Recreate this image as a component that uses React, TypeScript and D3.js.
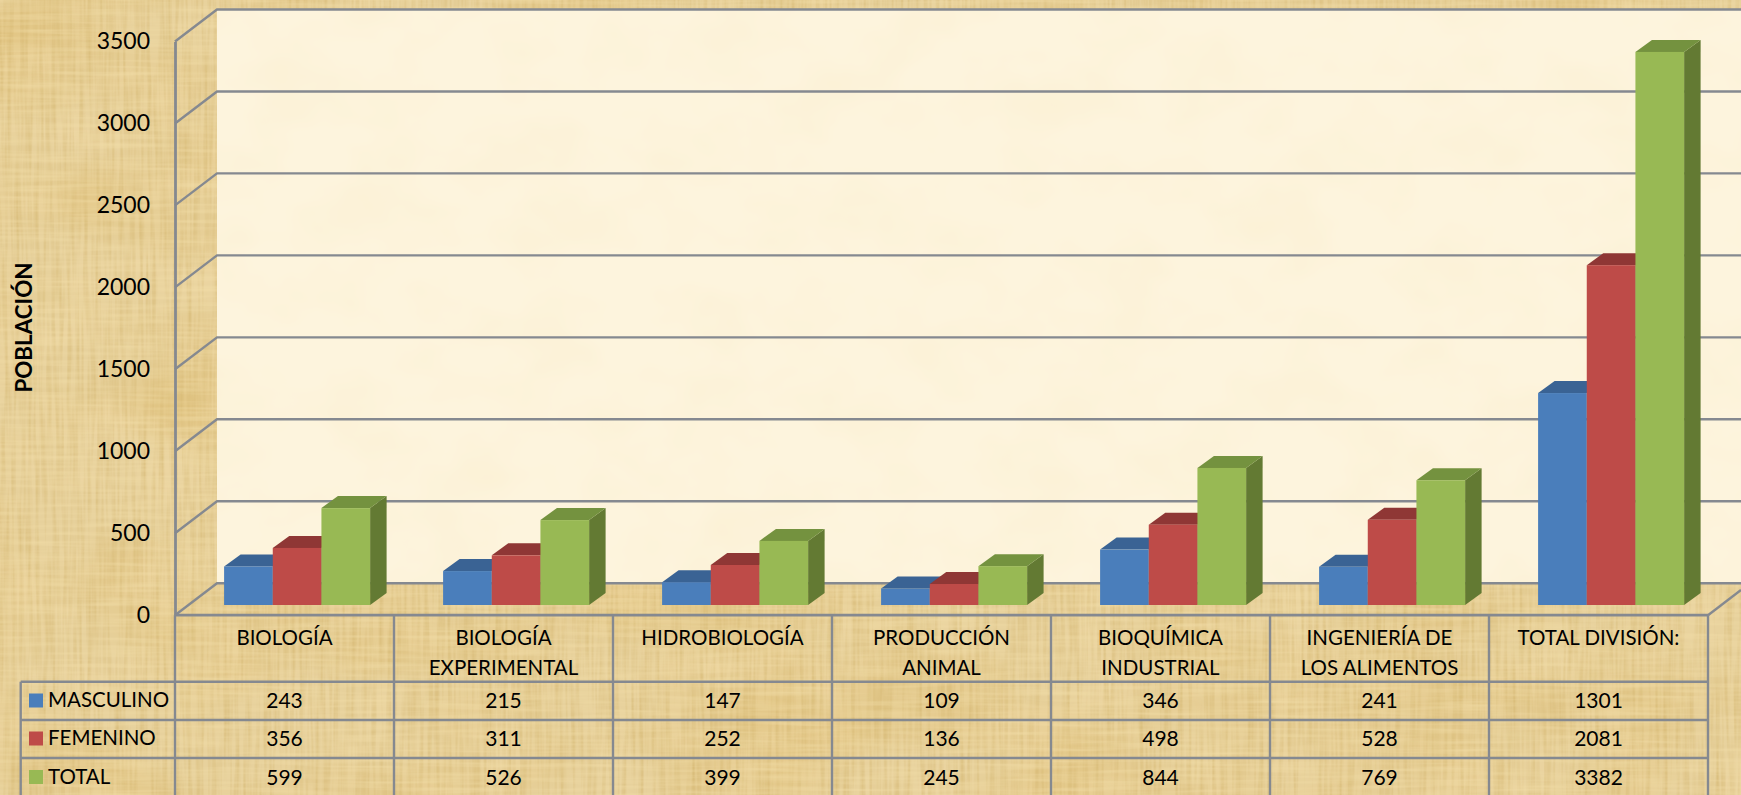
import { useEffect, useRef } from 'react';
import * as d3 from 'd3';

const categories = [
  ['BIOLOGÍA'],
  ['BIOLOGÍA', 'EXPERIMENTAL'],
  ['HIDROBIOLOGÍA'],
  ['PRODUCCIÓN', 'ANIMAL'],
  ['BIOQUÍMICA', 'INDUSTRIAL'],
  ['INGENIERÍA DE', 'LOS ALIMENTOS'],
  ['TOTAL DIVISIÓN:'],
];
const seriesNames = ['MASCULINO', 'FEMENINO', 'TOTAL'];
const masculino = [243, 215, 147, 109, 346, 241, 1301];
const femenino = [356, 311, 252, 136, 498, 528, 2081];
const total = [599, 526, 399, 245, 844, 769, 3382];
const seriesValues = [masculino, femenino, total];
const ticks = [0, 500, 1000, 1500, 2000, 2500, 3000, 3500];

const frontColors = ['#4a7ebb', '#be4b48', '#98b954'];
const topColors = ['#3a6394', '#8f3735', '#74923f'];
const sideColors = ['#2f5078', '#752c2b', '#637a33'];

const GRID = '#858990';
const FONT = 'Lato, "Open Sans", sans-serif';
const WIDTH = 1741;
const HEIGHT = 795;

export default function App() {
  const svgRef = useRef<SVGSVGElement>(null);

  useEffect(() => {
    const svg = d3.select(svgRef.current);
    svg.selectAll('*').remove();

    const left = 175;
    const right = 1708;
    const floorY = 615.2;
    const topY = 41.5;
    const wallDx = 42;
    const wallDy = -32;
    const barPlaneDx = 12.6;
    const barPlaneDy = -8.9;
    const barBase = 605;
    const barDepthDx = 16.5;
    const barDepthDy = -12;

    const y = d3.scaleLinear().domain([0, 3500]).range([floorY, topY]);
    const x = d3.scaleBand<number>().domain(d3.range(categories.length)).range([left, right]);
    const inner = d3.scaleBand<number>()
      .domain(d3.range(seriesNames.length))
      .range([0, x.bandwidth()])
      .paddingOuter(0.75);

    // Paper textures
    const defs = svg.append('defs');
    const paper = defs.append('filter').attr('id', 'papyrus')
      .attr('x', 0).attr('y', 0).attr('width', '100%').attr('height', '100%')
      .attr('color-interpolation-filters', 'sRGB');
    const layer = (freq: string, octaves: number, seed: number, matrix: string, name: string) => {
      paper.append('feTurbulence').attr('type', 'fractalNoise').attr('baseFrequency', freq)
        .attr('numOctaves', octaves).attr('seed', seed).attr('result', name + 'n');
      paper.append('feColorMatrix').attr('in', name + 'n').attr('type', 'matrix').attr('values', matrix).attr('result', name);
    };
    layer('0.006 0.009', 2, 4, '0 0 0 0 0.87  0 0 0 0 0.73  0 0 0 0 0.42  1.1 0 0 0 -0.42', 'blotch');
    layer('0.015 0.02', 2, 9, '0 0 0 0 0.95  0 0 0 0 0.86  0 0 0 0 0.66  1.0 0 0 0 -0.42', 'light');
    layer('0.25 0.012', 2, 12, '0 0 0 0 0.82  0 0 0 0 0.70  0 0 0 0 0.42  1.1 0 0 0 -0.42', 'vfibre');
    layer('0.012 0.25', 2, 21, '0 0 0 0 0.95  0 0 0 0 0.87  0 0 0 0 0.66  1.1 0 0 0 -0.42', 'hfibre');
    const merge = paper.append('feMerge');
    ['SourceGraphic', 'blotch', 'light', 'vfibre', 'hfibre'].forEach(n => merge.append('feMergeNode').attr('in', n));

    const cream = defs.append('filter').attr('id', 'cream')
      .attr('x', 0).attr('y', 0).attr('width', '100%').attr('height', '100%')
      .attr('color-interpolation-filters', 'sRGB');
    cream.append('feTurbulence').attr('type', 'fractalNoise').attr('baseFrequency', '0.012 0.016')
      .attr('numOctaves', 3).attr('seed', 3).attr('result', 'n');
    cream.append('feColorMatrix').attr('in', 'n').attr('type', 'matrix')
      .attr('values', '0 0 0 0 0.98  0 0 0 0 0.93  0 0 0 0 0.80  0.8 0 0 0 -0.32').attr('result', 'c');
    const creamMerge = cream.append('feMerge');
    ['SourceGraphic', 'c'].forEach(n => creamMerge.append('feMergeNode').attr('in', n));

    svg.append('rect').attr('width', WIDTH).attr('height', HEIGHT).attr('fill', '#e7d19c').attr('filter', 'url(#papyrus)');

    // Back wall
    svg.append('rect')
      .attr('x', left + wallDx).attr('y', y(3500) + wallDy)
      .attr('width', WIDTH - left - wallDx).attr('height', y(0) - y(3500))
      .attr('fill', '#fdf4dd').attr('filter', 'url(#cream)');

    // Gridlines on back wall and side wall
    const grid = svg.append('g').attr('fill', 'none').attr('stroke', GRID).attr('stroke-width', 2.4);
    grid.selectAll('path').data(ticks).join('path')
      .attr('d', d => {
        const p = d3.path();
        p.moveTo(left, y(d));
        p.lineTo(left + wallDx, y(d) + wallDy);
        p.lineTo(WIDTH, y(d) + wallDy);
        return p.toString();
      });
    // Floor's right edge
    grid.append('line').attr('x1', right).attr('y1', y(0)).attr('x2', WIDTH).attr('y2', y(0) + wallDy * (WIDTH - right) / wallDx);

    // Value axis
    const axis = svg.append('g').attr('transform', `translate(${left},0)`)
      .call(d3.axisLeft(y).tickValues(ticks).tickSize(0).tickPadding(25).tickFormat(d3.format('d')));
    axis.select('.domain').attr('stroke', GRID).attr('stroke-width', 2.8);
    axis.selectAll('.tick text').attr('font-family', FONT).attr('font-size', 23).attr('fill', '#000');

    // Bars
    const poly = (pts: [number, number][]) => d3.line()(pts) + 'Z';
    categories.forEach((_, c) => {
      const g = svg.append('g').attr('class', 'cluster');
      seriesValues.forEach((values, s) => {
        const x0 = x(c)! + barPlaneDx + inner(s)!;
        const w = inner.bandwidth();
        const t = y(values[c]) + barPlaneDy;
        g.append('path').attr('fill', sideColors[s]).attr('d', poly([
          [x0 + w, t], [x0 + w + barDepthDx, t + barDepthDy],
          [x0 + w + barDepthDx, barBase + barDepthDy], [x0 + w, barBase],
        ]));
        g.append('path').attr('fill', topColors[s]).attr('d', poly([
          [x0, t], [x0 + barDepthDx, t + barDepthDy],
          [x0 + w + barDepthDx, t + barDepthDy], [x0 + w, t],
        ]));
        g.append('rect').attr('x', x0).attr('y', t).attr('width', w).attr('height', barBase - t).attr('fill', frontColors[s]);
      });
    });

    // Data table
    const rowLines = [681.7, 720, 758];
    const rowCenters = [701, 739, 777.5];
    const tableLeft = 20.7;
    const table = svg.append('g').attr('stroke', GRID).attr('stroke-width', 2.4);
    table.append('line').attr('x1', left).attr('x2', right).attr('y1', y(0)).attr('y2', y(0)).attr('stroke-width', 2.8);
    table.selectAll('.row').data(rowLines).join('line').attr('class', 'row')
      .attr('x1', tableLeft).attr('x2', right).attr('y1', d => d).attr('y2', d => d);
    table.selectAll('.col').data(d3.range(categories.length + 1)).join('line').attr('class', 'col')
      .attr('x1', d => left + d * x.step()).attr('x2', d => left + d * x.step())
      .attr('y1', y(0)).attr('y2', HEIGHT);
    table.append('line').attr('x1', tableLeft).attr('x2', tableLeft).attr('y1', rowLines[0]).attr('y2', HEIGHT);

    const text = svg.append('g').attr('font-family', FONT).attr('font-size', 20.5).attr('fill', '#000');
    categories.forEach((lines, c) => {
      lines.forEach((line, i) => {
        text.append('text').attr('x', x(c)! + x.bandwidth() / 2).attr('y', 638 + i * 30)
          .attr('dy', '0.35em').attr('text-anchor', 'middle').text(line);
      });
      seriesValues.forEach((values, s) => {
        text.append('text').attr('x', x(c)! + x.bandwidth() / 2).attr('y', rowCenters[s])
          .attr('dy', '0.35em').attr('text-anchor', 'middle').attr('font-size', 21).text(values[c]);
      });
    });
    seriesNames.forEach((name, s) => {
      svg.append('rect').attr('x', 29).attr('y', rowCenters[s] - 7.5).attr('width', 14).attr('height', 14).attr('fill', frontColors[s]);
      text.append('text').attr('x', 48).attr('y', rowCenters[s] - 1).attr('dy', '0.35em').text(name);
    });

    // Axis title
    svg.append('text').attr('transform', 'translate(24,327.5) rotate(-90)')
      .attr('dy', '0.35em').attr('text-anchor', 'middle')
      .attr('font-family', FONT).attr('font-weight', 700).attr('font-size', 22.4).attr('fill', '#000')
      .text('POBLACIÓN');
  }, []);

  return (
    <svg ref={svgRef} width={WIDTH} height={HEIGHT}
      style={{ position: 'absolute', left: 0, top: 0, display: 'block' }} />
  );
}
